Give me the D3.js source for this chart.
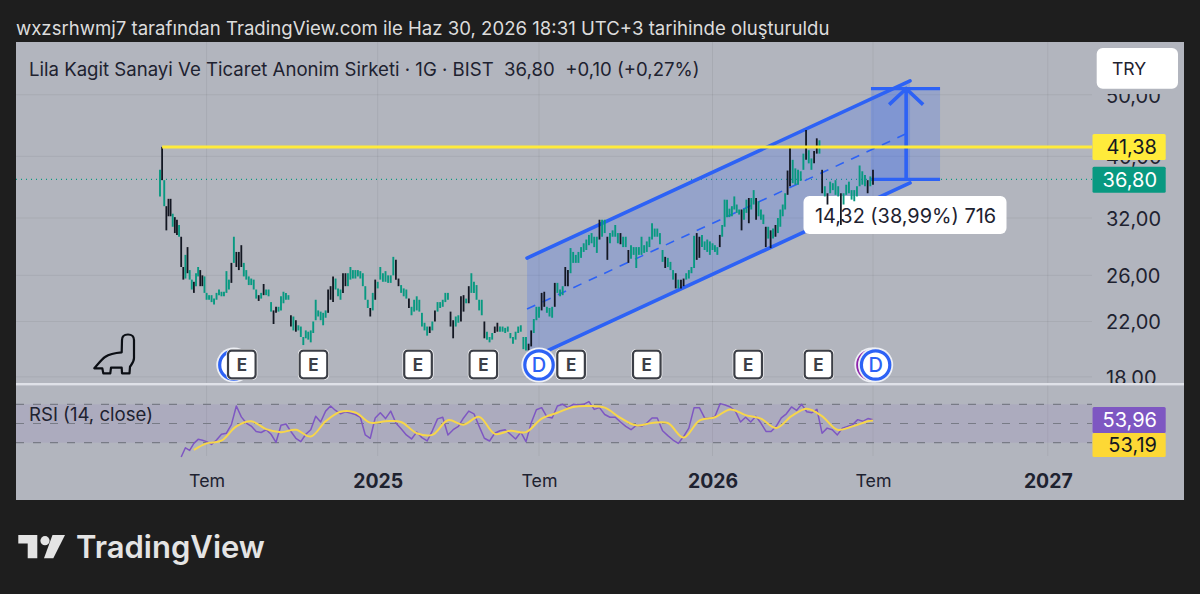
<!DOCTYPE html>
<html><head><meta charset="utf-8">
<script src="https://cdn.jsdelivr.net/npm/d3@7"></script>
<style>
html,body{margin:0;padding:0;background:#1e1e1e;overflow:hidden}
svg{display:block}
text{font-family:Inter,"Noto Sans",sans-serif}
</style></head><body><div id="chart"></div>
<script>
// ---- DATA (bar index = position on the TradingView time axis) ----
const highs=[38.1,41.4,36.7,33.4,34.3,34.3,32.5,32.1,31.8,31.2,29.9,26.8,28.0,28.8,26.5,25.6,25.4,26.2,26.8,26.5,26.0,25.9,24.4,24.2,24.2,23.9,24.4,24.7,24.5,24.5,26.4,25.6,27.2,29.9,28.3,28.3,29.0,27.2,26.5,25.9,25.7,25.6,24.7,24.2,24.4,25.2,24.7,24.7,23.6,22.9,23.2,23.2,24.1,24.5,24.4,24.2,22.5,22.4,22.1,21.7,21.6,20.8,21.3,21.2,21.3,22.0,23.8,22.9,22.8,22.7,22.9,24.7,25.0,25.9,25.7,24.8,24.7,26.2,26.2,26.2,26.8,26.5,26.5,26.5,26.4,26.2,25.0,23.8,23.1,24.4,25.6,25.4,26.8,26.2,26.4,26.0,26.0,27.8,27.5,25.7,25.1,24.8,24.7,23.9,23.2,23.8,24.1,23.8,22.7,21.9,21.6,21.6,22.0,22.9,23.6,23.6,23.8,24.4,24.4,22.8,22.1,22.4,22.5,24.1,24.2,23.9,25.0,26.2,25.4,25.1,23.8,23.8,22.0,21.2,20.8,21.1,21.6,21.9,
21.6,21.6,21.5,21.6,21.1,20.8,21.2,21.6,21.7,20.8,20.8,20.3,21.3,22.2,23.2,23.2,24.4,24.5,23.2,23.1,23.2,25.3,25.3,24.7,25.0,26.8,26.5,28.7,28.3,28.0,28.3,28.8,29.2,29.6,30.1,30.3,29.9,29.9,31.8,31.8,31.8,29.9,30.3,30.6,31.2,30.3,30.3,29.9,29.9,28.5,29.0,28.8,28.8,28.8,29.9,29.0,29.4,29.9,31.4,30.8,30.8,30.3,28.5,27.8,27.7,27.3,26.5,26.2,25.6,25.6,25.7,26.2,26.5,26.8,30.0,30.3,29.9,30.1,29.4,29.6,29.4,29.2,29.0,28.8,30.1,31.2,34.2,34.2,33.1,33.4,34.6,33.6,33.0,33.0,33.1,34.2,34.4,34.4,35.4,34.4,34.0,33.0,32.4,31.0,31.0,30.6,30.8,31.2,32.0,33.0,33.6,35.0,38.0,41.4,39.5,38.3,38.1,37.9,40.4,44.0,40.9,39.7,40.8,42.7,42.4,38.1,35.9,35.0,36.5,36.3,36.7,35.9,35.0,35.0,36.1,36.5,35.4,35.4,35.9,38.7,37.9,37.4,36.7,37.2,38.1];
const lows=[34.6,36.7,33.4,30.6,32.2,32.2,31.0,30.3,30.1,29.9,26.8,25.6,25.7,26.2,25.6,24.7,24.4,25.0,25.9,25.0,25.0,24.4,23.8,23.8,23.6,23.4,23.8,24.2,24.1,24.1,24.4,24.7,25.3,27.2,26.8,26.5,26.8,25.9,25.6,25.1,25.1,24.7,23.9,23.7,23.9,24.2,24.2,24.1,22.8,21.8,22.7,22.8,22.9,23.5,23.8,23.8,21.6,21.3,21.2,21.3,20.8,20.2,20.7,20.6,20.4,21.1,22.1,22.4,22.1,21.7,22.3,22.7,23.8,23.6,24.7,24.1,23.8,24.4,25.0,25.0,25.6,25.7,25.7,25.9,25.7,25.0,23.8,23.1,22.4,22.9,23.8,24.8,25.6,25.4,25.4,25.3,25.3,26.0,25.6,25.0,24.4,24.1,23.9,23.1,22.5,22.8,22.9,22.8,21.6,21.3,20.9,21.1,21.3,22.0,22.8,23.1,23.2,23.6,23.8,21.6,20.7,21.6,21.9,22.0,22.8,23.5,23.5,24.4,24.4,23.8,22.9,22.5,20.7,20.6,20.4,20.6,21.1,21.2,
21.2,21.2,21.1,21.2,20.7,20.3,20.6,21.1,21.2,19.9,19.8,19.8,20.1,21.1,22.1,22.3,22.9,23.2,22.7,22.4,22.3,23.2,24.4,24.1,24.2,25.0,25.0,26.2,27.2,27.2,27.2,27.7,28.3,28.5,29.0,29.2,28.8,28.2,29.6,29.9,30.3,27.5,29.2,29.9,29.9,29.2,29.1,28.8,28.8,27.2,27.6,28.0,26.7,28.0,28.0,28.2,28.3,28.8,29.6,29.9,29.9,29.1,27.3,26.7,26.8,26.5,25.6,24.8,24.8,24.8,25.0,25.6,25.7,26.2,26.7,27.5,27.7,28.8,28.5,28.3,28.0,28.5,28.3,28.0,28.8,29.9,31.0,32.1,32.1,32.2,33.0,32.6,32.4,30.6,31.8,32.6,31.4,33.0,33.6,31.8,32.2,31.8,31.3,28.8,29.7,28.7,29.7,29.9,30.3,31.0,32.2,33.0,34.8,35.9,36.3,36.1,36.1,36.6,38.1,39.5,39.0,38.1,39.0,40.4,40.4,35.0,34.6,33.6,35.0,35.4,34.8,34.6,31.2,33.6,34.8,35.0,34.2,34.0,34.6,35.9,36.1,35.9,35.0,35.9,36.1];
// Bars that read as black (falling) candles in the picture
const fallingBars=[1,3,4,5,7,8,10,11,13,16,19,20,32,34,35,36,43,45,49,50,56,58,71,72,73,77,78,88,90,98,99,103,111,113,119,120,123,124,126,132,136,137,149,150,154,155,159,163,164,176,179,184,187,201,205,207,208,213,214,222,231,234,237,241,243,245,250,251,257,260,261,263,265,270,280,282];
const rsiStartBar=10, rsiBarStep=2;
const rsiValues=[15.1,24.7,21.9,29.3,33.5,32.5,31.1,28.2,32.8,38.8,39.9,48.8,68.2,56.9,50.5,47.3,41.7,40.6,43.5,38.8,30.4,48.1,49.5,41.7,34.6,31.1,38.8,43.5,57.6,51.6,62.9,68.2,63.6,60.1,62.2,60.8,59.4,56.5,38.1,34.6,55.8,61.2,55.1,62.9,50.5,44.5,38.1,
33.9,41,35.3,31.8,42.4,54.8,56.5,38.1,43.5,47,55.8,62.9,60.1,47,34.6,31.8,39.9,42.4,43.5,38.8,33.9,41,31.1,50.5,64.3,66.5,56.9,55.8,68.2,70,66.5,70,69.3,70,72.8,64.7,66.5,59.4,56.5,56.5,51.6,47,43.5,48.1,47,50.5,
55.8,55.8,42.4,37.4,32.8,29.3,36.4,45.2,66.5,66.5,55.8,55.1,57.6,70.7,69.3,67.2,62.9,51.6,56.5,51.6,57.6,50.5,41.7,41.7,47,55.8,60.1,67.2,63.6,70,62.2,61.2,64.7,39.9,45.2,43.5,38.1,45.2,47,48.8,54,52.3,55.1,53.96];
const maBars=[16,22,28,34,40,46,52,58,64,70,76,82,88,94,100,106,112,118,124,130,136,142,148,154,160,166,172,178,184,190,196,202,208,214,220,226,232,238,244,250,256,262,268,274,280,282];
const rsiMaValues=[22.6,29.3,32.1,47,52.3,44.2,41,43.5,36.4,52.3,62.2,61.5,50.9,52.3,51.6,39.9,38.1,53.4,48.8,56.9,39.2,42.4,41,55.1,61.2,67.2,68.2,66.5,55.8,48.1,50.5,50.5,35.3,53,56.5,64.7,58.7,55.1,45.2,57.6,65.4,57.6,43.5,47,52.3,53.19];
const priceTicks=[50,40,32,26,22,18];
const timeTickBars=[22,91,153,219,282,349];
const timeTickLabels=["Tem","2025","Tem","2026","Tem","2027"];
const earningsBars=[36.2,65.1,106.5,131.6,165.2,194,233,260.6];
const dividendBars=[33,153,283];
const splitBar=281.6;
const channelBars=[148.4,296.2];
const channelTop=[27.68,52.57];
const channelMid=[23.01,43.7];
const channelBottom=[19.13,36.33];
const resistance=41.38, lastClose=36.80, rangeTop=51.12;
const rangeBars=[281.2,307.7], arrowBar=294.7;
const rsiLast=53.96, rsiMaLast=53.19, rsiLevels=[70,50,30];
const fmt=v=>v.toFixed(2).replace(".",",");

// ---- LAYOUT ----
const W=1200,H=594;
const panel={l:16,t:42,r:1184,b:500}, sep=384, plotR=1092;
const ink="#1e2230", blue="#2d62f5", teal="#089981", candleDark="#131722", yellow="#ffeb3b", paneBg="#b2b5be";
const svg=d3.select("#chart").append("svg").attr("width",W).attr("height",H);
svg.append("rect").attr("width",W).attr("height",H).attr("fill","#1e1e1e");
svg.append("rect").attr("x",panel.l).attr("y",panel.t).attr("width",panel.r-panel.l).attr("height",panel.b-panel.t).attr("fill",paneBg);

const x=d3.scaleLinear().domain([0,...timeTickBars]).range([160,206.6,377.7,539,712.5,873,1047.8]);
// candle positions: same axis, with one extra reading where the bar spacing narrows
const xc=d3.scaleLinear().domain([0,22,91,153,219,251,282]).range([160,206.6,377.7,539,712.5,790,873]);
const y=d3.scaleLog().domain([18,32]).range([376.9,218]);
const ry=d3.scaleLinear().domain([30,70]).range([442.7,404.3]);

svg.append("defs").append("clipPath").attr("id","mainClip").append("rect").attr("x",panel.l).attr("y",panel.t).attr("width",panel.r-panel.l).attr("height",sep-panel.t);

// Header
svg.append("text").attr("x",16).attr("y",34.5).attr("font-size",18.6).attr("fill","#dcdcdc")
 .text("wxzsrhwmj7 tarafından TradingView.com ile Haz 30, 2026 18:31 UTC+3 tarihinde oluşturuldu");

// Grid
const grid=svg.append("g").attr("stroke","#000").attr("stroke-opacity",0.06);
grid.selectAll("line.h").data(priceTicks).join("line").attr("x1",panel.l).attr("x2",plotR).attr("y1",d=>y(d)).attr("y2",d=>y(d));
grid.selectAll("line.v").data(timeTickBars).join("line").attr("x1",d=>x(d)).attr("x2",d=>x(d)).attr("y1",panel.t).attr("y2",456);

// Price axis (clipped by the pane)
const pa=svg.append("g").attr("clip-path","url(#mainClip)").append("g").attr("transform","translate(1099,1)")
 .call(d3.axisRight(y).tickValues(priceTicks).tickFormat(fmt).tickSize(0).tickPadding(7));
pa.select(".domain").remove();
pa.selectAll("text").attr("font-size",20).attr("fill",ink).attr("font-family","Inter");
// strip above the axis that covers the top label, under the currency button
svg.append("rect").attr("x",plotR).attr("y",panel.t).attr("width",panel.r-plotR).attr("height",52).attr("fill",paneBg);

// Last price dotted
svg.append("line").attr("x1",panel.l).attr("x2",plotR).attr("y1",y(lastClose)).attr("y2",y(lastClose))
 .attr("stroke",teal).attr("stroke-width",1.2).attr("stroke-dasharray","1 4");

// Channel
const chanLine=d3.line().x((d,i)=>x(channelBars[i])).y(d=>y(d));
svg.append("path").attr("fill",blue).attr("fill-opacity",0.22)
 .attr("d",`M${x(channelBars[0])},${y(channelTop[0])}L${x(channelBars[1])},${y(channelTop[1])}L${x(channelBars[1])},${y(channelBottom[1])}L${x(channelBars[0])},${y(channelBottom[0])}Z`);
[channelTop,channelBottom].forEach(a=>svg.append("path").attr("d",chanLine(a)).attr("fill","none").attr("stroke",blue).attr("stroke-width",3.6).attr("stroke-linecap","round"));
svg.append("path").attr("d",chanLine(channelMid)).attr("fill","none").attr("stroke",blue).attr("stroke-width",1.6).attr("stroke-dasharray","9 8");

// Price range tool
svg.append("rect").attr("x",x(rangeBars[0])).attr("width",x(rangeBars[1])-x(rangeBars[0])).attr("y",y(rangeTop)).attr("height",y(lastClose)-y(rangeTop)).attr("fill",blue).attr("fill-opacity",0.2);
[rangeTop,lastClose].forEach(p=>svg.append("line").attr("x1",x(rangeBars[0])).attr("x2",x(rangeBars[1])).attr("y1",y(p)).attr("y2",y(p)).attr("stroke",blue).attr("stroke-width",3.4));
const ax=x(arrowBar), at=y(rangeTop);
svg.append("path").attr("d",`M${ax},${y(lastClose)}V${at}M${ax-17},${at+16}L${ax},${at}L${ax+17},${at+16}`).attr("fill","none").attr("stroke",blue).attr("stroke-width",3.6);
// Range label
svg.append("rect").attr("x",803.5).attr("y",196).attr("width",203).attr("height",38).attr("rx",6).attr("fill","#fff");
svg.append("text").attr("x",905.5).attr("y",216).attr("text-anchor","middle").attr("dominant-baseline","central").attr("font-size",19.9).attr("fill",ink).text("14,32 (38,99%) 716");

// Candles: drawn from low to high, in one colour per bar
const falling=new Set(fallingBars);
const bars=highs.map((h,i)=>({i,down:falling.has(i),h,l:lows[i]}));
svg.append("g").selectAll("line").data(bars).join("line").attr("x1",d=>xc(d.i)).attr("x2",d=>xc(d.i)).attr("y1",d=>y(d.h)).attr("y2",d=>y(d.l))
 .attr("stroke",d=>d.down?candleDark:teal).attr("stroke-width",d=>d.down?1.8:1.9);

// Resistance line
svg.append("line").attr("x1",x(1)).attr("x2",plotR).attr("y1",y(resistance)).attr("y2",y(resistance)).attr("stroke",yellow).attr("stroke-width",3);

// Title
svg.append("text").attr("x",29).attr("y",76).attr("font-size",18.6).attr("fill",ink).style("white-space","pre")
 .text("Lila Kagit Sanayi Ve Ticaret Anonim Sirketi · 1G · BIST  36,80  +0,10 (+0,27%)");

// Dino
svg.append("path").attr("d","M94.3 368.3C99 363 102 359 105 357C110 353.5 115 352.8 121.7 352.3L122 340C122 336 124.5 334.5 128 334.5C132 334.5 134 337 134 340L134 358C134 362 131.5 364.5 130 366.7L129.5 373.3L122 373.3L121.7 367.7L111 367.7L110.3 373.3L103.3 373.3L102.3 368.3Z")
 .attr("fill","none").attr("stroke","#0b0e14").attr("stroke-width",2.2).attr("stroke-linejoin","round");

// Events: dividends
function dBadge(bar,ring){
 const g=svg.append("g").attr("transform",`translate(${x(bar)},365)`);
 g.append("circle").attr("r",17.6).attr("fill","#eef0f5");
 g.append("circle").attr("r",14.2).attr("fill","#fff").attr("stroke",ring).attr("stroke-width",3.2);
 return g;
}
dBadge(splitBar,"#8e24aa");
dividendBars.forEach(b=>{
 const g=dBadge(b,blue);
 g.append("text").attr("text-anchor","middle").attr("dominant-baseline","central").attr("font-size",20).attr("font-weight",500).attr("fill",blue).text("D");
});
// Events: earnings
const eg=svg.append("g").selectAll("g").data(earningsBars).join("g").attr("transform",d=>`translate(${x(d)},364.5)`);
eg.append("rect").attr("x",-15.5).attr("y",-15.5).attr("width",31).attr("height",31).attr("rx",5).attr("fill","#fff");
eg.append("rect").attr("x",-13.8).attr("y",-13.8).attr("width",27.6).attr("height",27.6).attr("rx",3.5).attr("fill","#fff").attr("stroke","#3c3f47").attr("stroke-width",2.2);
eg.append("text").attr("text-anchor","middle").attr("dominant-baseline","central").attr("font-size",17).attr("font-weight",700).attr("fill","#3c3f47").text("E");

// Separator
svg.append("rect").attr("x",panel.l).attr("y",sep-1).attr("width",panel.r-panel.l).attr("height",2.4).attr("fill","#dfe1e8");

// RSI pane
svg.append("rect").attr("x",panel.l).attr("width",plotR-panel.l).attr("y",ry(70)).attr("height",ry(30)-ry(70)).attr("fill","#7e57c2").attr("fill-opacity",0.1);
svg.selectAll("line.lvl").data(rsiLevels).join("line").attr("x1",panel.l).attr("x2",plotR).attr("y1",d=>ry(d)).attr("y2",d=>ry(d))
 .attr("stroke","#787b86").attr("stroke-width",1.2).attr("stroke-dasharray","8 9");
const rLine=d3.line().x(d=>x(d[0])).y(d=>ry(d[1]));
svg.append("path").attr("d",rLine(rsiValues.map((v,i)=>[rsiStartBar+i*rsiBarStep,v]))).attr("fill","none").attr("stroke","#7e57c2").attr("stroke-width",1.5).attr("stroke-linejoin","round");
svg.append("path").attr("d",rLine.curve(d3.curveCatmullRom)(rsiMaValues.map((v,i)=>[maBars[i],v]))).attr("fill","none").attr("stroke","#f7d64a").attr("stroke-width",2);
svg.append("text").attr("x",29).attr("y",420.5).attr("font-size",18.6).attr("fill",ink).text("RSI (14, close)");

// Time axis
const ta=svg.append("g").attr("transform","translate(0,473)")
 .call(d3.axisBottom(x).tickValues(timeTickBars).tickFormat((d,i)=>timeTickLabels[i]).tickSize(0).tickPadding(0));
ta.select(".domain").remove();
ta.selectAll("text").attr("fill",ink).attr("font-family","Inter").attr("dy",".78em")
 .attr("font-size",(d,i)=>/^\d/.test(timeTickLabels[i])?19.4:17.8)
 .attr("font-weight",(d,i)=>/^\d/.test(timeTickLabels[i])?700:400);

// Price tags
function tag(y0,y1,fill,txt,tc){
 svg.append("rect").attr("x",1092.5).attr("y",y0).attr("width",73.2).attr("height",y1-y0).attr("fill",fill).attr("rx",1.5);
 svg.append("text").attr("x",1157).attr("y",(y0+y1)/2).attr("text-anchor","end").attr("dominant-baseline","central").attr("font-size",20).attr("fill",tc).text(txt);
}
tag(134,160,yellow,fmt(resistance),"#131722");
tag(166.7,192.7,teal,fmt(lastClose),"#fff");
tag(407,433,"#7e57c2",fmt(rsiLast),"#fff");
tag(433,457,"#fdd835",fmt(rsiMaLast),"#131722");

// Currency button
svg.append("rect").attr("x",1096.7).attr("y",48).attr("width",81.3).attr("height",40.7).attr("rx",6).attr("fill","#fff");
svg.append("text").attr("x",1112).attr("y",68.5).attr("dominant-baseline","central").attr("font-size",17.6).attr("fill",ink).text("TRY");

// TradingView logo
const lg="#e4e4e4";
svg.append("path").attr("fill",lg).attr("d","M18.3 535H37.3V558.3H27.7V543.4H18.3Z");
svg.append("circle").attr("cx",45).attr("cy",540.7).attr("r",4.6).attr("fill",lg);
svg.append("path").attr("fill",lg).attr("d","M52.5 535H65L53.3 558.3H44Z");
svg.append("text").attr("x",76).attr("y",558).attr("font-size",31).attr("font-weight",600).attr("fill",lg).attr("font-family","Inter").text("TradingView");
</script></body></html>
